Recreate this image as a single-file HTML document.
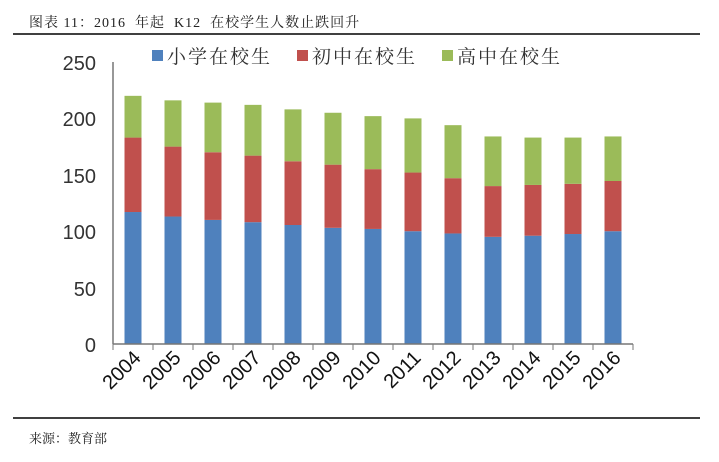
<!DOCTYPE html><html><head><meta charset="utf-8"><style>body{margin:0;background:#fff;width:719px;height:457px;overflow:hidden}</style></head><body>
<svg width="719" height="457" xmlns="http://www.w3.org/2000/svg" font-family="Liberation Sans, Noto Sans CJK SC, sans-serif">
<text x="29" y="27" font-size="14" font-family="Liberation Serif, Noto Serif CJK SC, serif" fill="#222" xml:space="preserve" letter-spacing="1">图表 11：2016  年起  K12  在校学生人数止跌回升</text>
<line x1="13" y1="34" x2="700" y2="34" stroke="#000" stroke-width="1.5"/>
<line x1="13" y1="418" x2="700" y2="418" stroke="#000" stroke-width="1.5"/>
<text x="29" y="443" font-size="13" font-family="Liberation Serif, Noto Serif CJK SC, serif" fill="#222">来源：教育部</text>
<g font-size="20" fill="#333" text-anchor="end">
<text x="96" y="70">250</text><text x="96" y="126">200</text><text x="96" y="183">150</text><text x="96" y="239">100</text><text x="96" y="296">50</text><text x="96" y="352">0</text></g>
<g font-size="19" fill="#333" font-family="Noto Serif CJK SC, serif" letter-spacing="2">
<rect x="152" y="50" width="11" height="11" fill="#4f81bd"/><text x="167" y="63">小学在校生</text>
<rect x="297" y="50" width="11" height="11" fill="#c0504d"/><text x="312" y="63">初中在校生</text>
<rect x="442" y="50" width="11" height="11" fill="#9bbb59"/><text x="457" y="63">高中在校生</text></g>
<g id="bars"></g>
<line x1="113" y1="62" x2="113" y2="344" stroke="#777" stroke-width="1.5"/>
<line x1="113" y1="344" x2="633" y2="344" stroke="#777" stroke-width="1.5"/>
<g id="ticks" stroke="#777"></g>
<g id="xl" font-size="20" fill="#111"></g>
</svg>
<script>
var d=[[117,183,220],[113,175,216],[110,170,214],[108,167,212],[105.5,162,208],[103,159,205],[102,155,202],[100,152,200],[98,147,194],[95,140,184],[96,141,183],[97.5,142,183],[100,144.5,184]];
var s=1.128,b='',t='',x='';
d.forEach(function(v,i){var cx=133+40*i,l=cx-8.5;
var y=function(a){return 344-a*s};
b+='<rect x="'+l+'" y="'+y(v[0])+'" width="17" height="'+v[0]*s+'" fill="#4f81bd"/>';
b+='<rect x="'+l+'" y="'+y(v[1])+'" width="17" height="'+(v[1]-v[0])*s+'" fill="#c0504d"/>';
b+='<rect x="'+l+'" y="'+y(v[2])+'" width="17" height="'+(v[2]-v[1])*s+'" fill="#9bbb59"/>';
x+='<text transform="translate('+(cx+9)+',359) rotate(-45)" text-anchor="end">'+(2004+i)+'</text>';});
for(var i=0;i<=13;i++){var xx=113+40*i;t+='<line x1="'+xx+'" y1="344" x2="'+xx+'" y2="350"/>';}
document.getElementById('bars').innerHTML=b;document.getElementById('ticks').innerHTML=t;document.getElementById('xl').innerHTML=x;
</script></body></html>
